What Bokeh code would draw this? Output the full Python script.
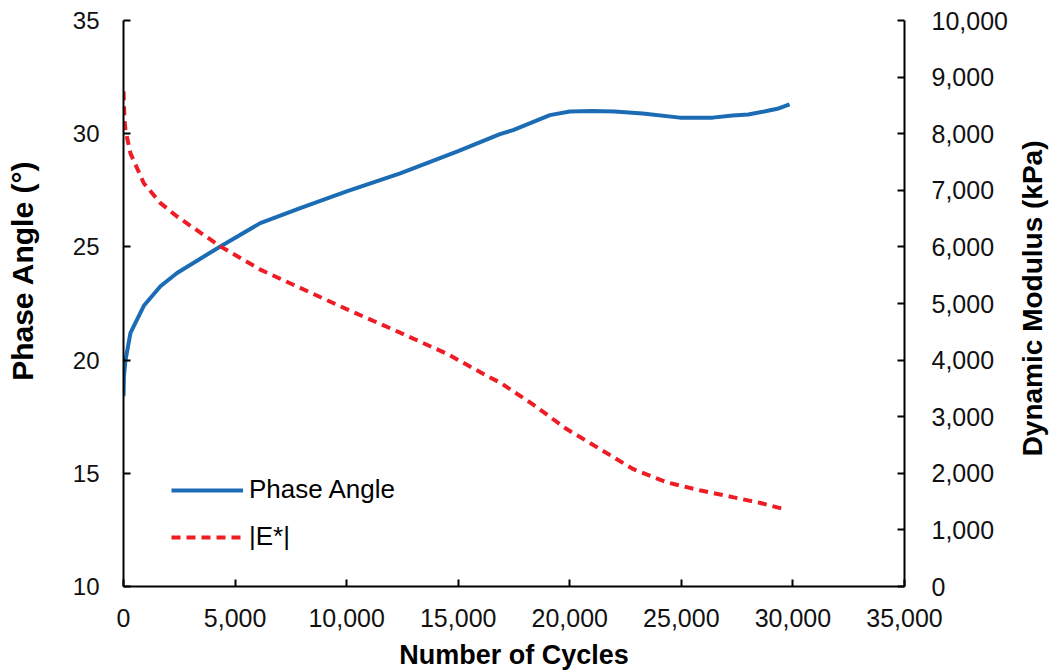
import math
from bokeh.plotting import figure
from bokeh.layouts import row
from bokeh.models import (Range1d, LinearAxis, NumeralTickFormatter, FixedTicker, Legend,
                          LegendItem, Label)
from bokeh.embed import file_html
from bokeh.resources import INLINE

# Phase angle data (cycles, degrees)
cycles_pa = [0, 20, 90, 313, 910, 1656, 2400, 4340, 6130, 7920, 10000, 12400, 15000,
             16870, 17460, 19110, 20000, 21030, 22000, 23270, 24930, 26400, 27300,
             28000, 28820, 29300, 29850]
phase_angle = [18.4, 19.3, 20.0, 21.2, 22.4, 23.26, 23.85, 25.02, 26.05, 26.71, 27.45,
               28.25, 29.23, 29.98, 30.16, 30.82, 30.98, 31.0, 30.98, 30.89, 30.71,
               30.71, 30.8, 30.85, 31.0, 31.1, 31.3]

# Dynamic modulus data (cycles, kPa)
cycles_e = [0, 45, 90, 313, 910, 1656, 2400, 4340, 6130, 7920, 10000, 12400, 14500,
            16430, 16870, 18300, 19860, 21350, 22830, 24330, 25820, 27300, 28500, 29540]
modulus = [8750, 8239, 8063, 7653, 7125, 6773, 6537, 6009, 5599, 5276, 4900, 4484, 4110,
           3692, 3604, 3230, 2782, 2430, 2077, 1843, 1700, 1579, 1480, 1373]

x_ticks = [0, 5000, 10000, 15000, 20000, 25000, 30000, 35000]
left_ticks = [10, 15, 20, 25, 30, 35]
right_ticks = [0, 1000, 2000, 3000, 4000, 5000, 6000, 7000, 8000, 9000, 10000]

left_title_text = "Phase Angle (°)"
right_title_text = "Dynamic Modulus (kPa)"

FONT = "Liberation Sans"
BLUE = "#1B6CB5"
RED = "#EE1C25"

H = 672
LW = 52     # width of left title strip
RW = 42     # width of right title strip
MW = 1052 - LW - RW

p = figure(width=MW, height=H, output_backend="svg", toolbar_location=None,
           x_range=Range1d(0, 35000), y_range=Range1d(10, 35),
           min_border_left=123 - LW, min_border_right=(1052 - RW) - 905, min_border_top=20,
           min_border_bottom=84)
p.extra_y_ranges = {"mod": Range1d(0, 10000)}
p.outline_line_color = None
p.grid.visible = False
p.background_fill_color = "white"
p.border_fill_color = "white"

pa_r = p.line(cycles_pa, phase_angle, line_color=BLUE, line_width=4)
e_r = p.line(cycles_e, modulus, line_color=RED, line_width=4, line_dash="9 6",
             y_range_name="mod")

def style(ax, tick_size, title_size):
    ax.axis_line_color = "black"
    ax.axis_line_width = 2
    ax.major_tick_in = 7
    ax.major_tick_out = 0
    ax.major_tick_line_width = 2
    ax.minor_tick_line_color = None
    ax.major_label_text_font = FONT
    ax.major_label_text_font_size = tick_size
    ax.major_label_text_color = "#111111"
    ax.axis_label_text_font = FONT
    ax.axis_label_text_font_size = title_size
    ax.axis_label_text_font_style = "bold"
    ax.axis_label_text_color = "black"

xa = p.xaxis[0]
style(xa, "25px", "27px")
xa.ticker = FixedTicker(ticks=x_ticks)
xa.formatter = NumeralTickFormatter(format="0,0")
xa.axis_label = "Number of Cycles"
xa.major_label_standoff = 22
xa.axis_label_standoff = 10

ya = p.yaxis[0]
style(ya, "24px", "28px")
ya.ticker = FixedTicker(ticks=left_ticks)
ya.major_label_standoff = 24

ra = LinearAxis(y_range_name="mod", ticker=FixedTicker(ticks=right_ticks),
                formatter=NumeralTickFormatter(format="0,0"))
style(ra, "25px", "28px")
ra.major_label_standoff = 27
p.add_layout(ra, "right")

legend = Legend(items=[LegendItem(label="Phase Angle", renderers=[pa_r]),
                       LegendItem(label="|E*|", renderers=[e_r])],
                location=(48, 34), orientation="vertical")
legend.background_fill_alpha = 0
legend.border_line_color = None
legend.label_text_font = FONT
legend.label_text_font_size = "26px"
legend.label_text_color = "black"
legend.glyph_width = 72
legend.glyph_height = 30
legend.label_height = 30
legend.spacing = 16
legend.padding = 8
legend.label_standoff = 6
p.add_layout(legend, "center")


def title_strip(width, text, cx, cy, size):
    s = figure(width=width, height=H, output_backend="svg", toolbar_location=None,
               x_range=Range1d(0, width), y_range=Range1d(0, H),
               x_axis_location=None, y_axis_location=None, min_border=0)
    s.outline_line_color = None
    s.grid.visible = False
    s.border_fill_color = "white"
    s.background_fill_color = "white"
    s.add_layout(Label(x=cx, y=H - cy, text=text, angle=math.pi / 2,
                       text_align="center", text_baseline="middle", text_font=FONT,
                       text_font_size=size, text_font_style="bold",
                       text_color="black"))
    return s


left_strip = title_strip(LW, left_title_text, 22, 297, "30px")
right_strip = title_strip(RW, right_title_text, 1032 - (1052 - RW), 330, "28px")

layout = row(left_strip, p, right_strip, spacing=0)
open("out.html", "w").write(file_html(layout, INLINE))
